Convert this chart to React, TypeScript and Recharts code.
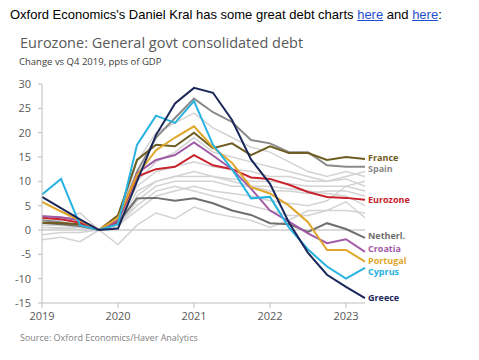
import React from "react";
import {
  LineChart,
  Line,
  XAxis,
  YAxis,
  ReferenceLine,
} from "recharts";

// quarters 2019Q1 .. 2023Q2, change vs Q4 2019 (ppts of GDP)
const quarters = [
  "2019Q1", "2019Q2", "2019Q3", "2019Q4",
  "2020Q1", "2020Q2", "2020Q3", "2020Q4",
  "2021Q1", "2021Q2", "2021Q3", "2021Q4",
  "2022Q1", "2022Q2", "2022Q3", "2022Q4",
  "2023Q1", "2023Q2",
];
const yearTicks = [0, 4, 8, 12, 16];
const yearLabels = ["2019", "2020", "2021", "2022", "2023"];
const yTicks = [-15, -10, -5, 0, 5, 10, 15, 20, 25, 30];

const greece = [6.8, 4.5, 2.2, 0, 0.3, 10, 19.5, 26, 29.2, 28.2, 22.6, 14.5, 9.5, 1.5, -4.7, -9.2, -11.7, -14];
const cyprus = [7.3, 10.5, 1.0, 0, 1.2, 17.5, 23.5, 22, 26.5, 17.5, 12.5, 6.5, 6.8, 0.5, -4, -7.5, -10, -7.8];
const france = [1.5, 1.4, 1.2, 0, 3, 14.4, 17.5, 17.2, 20, 16.8, 17.8, 15.4, 17.2, 15.8, 15.8, 14.4, 15, 14.6];
const spain = [2, 1.6, 1, 0, 2, 12, 19, 23, 27, 24.2, 22.2, 18.5, 17.8, 16, 16, 13.3, 13, 13];
const eurozone = [2.5, 2.2, 1.5, 0, 1.8, 11, 12.5, 13, 15.4, 13.3, 12.5, 10.8, 10.5, 9.3, 7.8, 6.8, 6.6, 6.2];
const portugal = [5.8, 3.8, 2, 0, 2.5, 11.3, 16.4, 19, 21.3, 17, 13.8, 8.8, 7.5, 5, 1.6, -4.1, -4.1, -6.5];
const croatia = [2.8, 2.6, 2, 0, 2, 11.7, 14.4, 15.4, 18, 15.3, 12.5, 8.5, 4, 1.7, -0.7, -2.7, -1.9, -4.5];
const netherl = [1.5, 1.2, 0.8, 0, 1.5, 6.5, 6.6, 6, 6.5, 5.5, 4, 3.1, 1.4, 1.2, -0.4, 1.4, 0.2, -1.6];

// other eurozone countries, drawn in light grey
const others = [
  [2, 1.5, 1, 0, 2, 14, 20, 22, 24, 21, 19, 17, 16, 14, 12, 11, 12, 11],
  [1, 1, 0.5, 0, 1.5, 10, 14, 16, 19, 16, 15, 14, 13, 12, 11, 10, 10.5, 9],
  [3, 2.5, 2, 0, 2, 9, 12, 13, 14, 13, 12.5, 12, 11, 11, 10, 10, 11, 12],
  [0.5, 0.5, 0, 0, 0.5, 7, 10, 11, 11, 11, 10.5, 10, 10, 9.5, 9, 9, 9, 10],
  [-1, -0.5, -0.5, 0, 0.5, 6, 9, 10, 10, 10, 9, 9, 8, 8, 7.5, 8, 8, 7],
  [-2, -1.5, -2.4, 0, -3, 1, 3.5, 2.3, 4.7, 3.5, 2.7, 2, 0.5, 2, 4, 4, 5.8, 2.5],
  [1, 1, 1.5, 0, 1, 5, 8, 9, 8, 7, 6, 5, 4, 3, 3, 4, 4, 3.5],
  [2, 2, 3.5, 0, 1, 8, 10, 11, 12, 11, 10, 9, 9, 8.5, 8, 7.5, 7, 5],
  [0, 0.3, 0.5, 0, 1, 4, 7, 8, 9, 8, 7.5, 7, 6, 5.5, 5, 6, 9, 8],
];

// labelShift nudges end labels apart where they would collide
const named = [
  { key: "netherl", name: "Netherl.", values: netherl, color: "#6f6f6f", labelShift: -1.8 },
  { key: "spain", name: "Spain", values: spain, color: "#8a8a8a", labelShift: 2.5 },
  { key: "france", name: "France", values: france, color: "#6e5c20", labelShift: -1.5 },
  { key: "eurozone", name: "Eurozone", values: eurozone, color: "#c8232c", labelShift: 0 },
  { key: "croatia", name: "Croatia", values: croatia, color: "#a15aa6", labelShift: -3 },
  { key: "portugal", name: "Portugal", values: portugal, color: "#e0a62a", labelShift: -1.2 },
  { key: "cyprus", name: "Cyprus", values: cyprus, color: "#27b2e0", labelShift: 4.3 },
  { key: "greece", name: "Greece", values: greece, color: "#1b275a", labelShift: 0 },
];

const data = quarters.map((q, i) => {
  const row: any = { i, q };
  others.forEach((s, k) => (row["o" + k] = s[i]));
  named.forEach((s) => (row[s.key] = s.values[i]));
  return row;
});

const last = quarters.length - 1;
const font = "'Open Sans', 'Noto Sans', sans-serif";

const endLabel = (name: string, color: string, shift: number) => (props: any) => {
  if (props.index !== last) return null;
  return (
    <text
      x={props.x + 3}
      y={props.y + shift}
      dy={3.2}
      fill={color}
      fontSize={9}
      fontWeight="bold"
      fontFamily={font}
    >
      {name}
    </text>
  );
};

export default function App() {
  return (
    <div
      style={{
        position: "absolute",
        left: 0,
        top: 0,
        width: 479,
        height: 360,
        background: "#fff",
        overflow: "hidden",
      }}
    >
      <div
        style={{
          position: "absolute",
          left: 10,
          top: 7,
          fontFamily: "'Liberation Sans', Arial, sans-serif",
          fontSize: 13,
          color: "#000",
          whiteSpace: "nowrap",
        }}
      >
        Oxford Economics's Daniel Kral has some great debt charts{" "}
        <span style={{ color: "#1f4fd0", textDecoration: "underline" }}>here</span> and{" "}
        <span style={{ color: "#1f4fd0", textDecoration: "underline" }}>here</span>:
      </div>
      <div
        style={{
          position: "absolute",
          left: 20,
          top: 33,
          fontFamily: font,
          fontSize: 14.5,
          color: "#5a5a5a",
          whiteSpace: "nowrap",
        }}
      >
        Eurozone: General govt consolidated debt
      </div>
      <div
        style={{
          position: "absolute",
          left: 19,
          top: 55,
          fontFamily: font,
          fontSize: 9.5,
          color: "#404040",
          whiteSpace: "nowrap",
        }}
      >
        Change vs Q4 2019, ppts of GDP
      </div>
      <div style={{ position: "absolute", left: 0, top: 0 }}>
        <LineChart
          width={479}
          height={360}
          data={data}
          margin={{ top: 84, right: 114, bottom: 27, left: 0 }}
        >
          <XAxis
            dataKey="i"
            type="number"
            domain={[0, last]}
            ticks={yearTicks}
            tickFormatter={(v: number) => yearLabels[yearTicks.indexOf(v)]}
            height={30}
            stroke="#bdbdbd"
            tickSize={5}
            tickMargin={4}
            tick={{ fill: "#595959", fontSize: 11, fontFamily: font }}
          />
          <YAxis
            type="number"
            domain={[-15, 30]}
            ticks={yTicks}
            width={42}
            stroke="#bdbdbd"
            tickSize={4}
            tickMargin={7}
            interval={0}
            tick={{ fill: "#595959", fontSize: 11, fontFamily: font }}
          />
          <ReferenceLine y={0} stroke="#b5b5b5" strokeWidth={1} />
          {others.map((_, k) => (
            <Line
              key={"o" + k}
              dataKey={"o" + k}
              stroke="#d3d3d3"
              strokeWidth={1.5}
              dot={false}
              isAnimationActive={false}
            />
          ))}
          {named.map((s) => (
            <Line
              key={s.key}
              dataKey={s.key}
              stroke={s.color}
              strokeWidth={2}
              dot={false}
              isAnimationActive={false}
              label={endLabel(s.name, s.color, s.labelShift)}
            />
          ))}
        </LineChart>
      </div>
      <div
        style={{
          position: "absolute",
          left: 20,
          top: 331,
          fontFamily: font,
          fontSize: 9,
          color: "#7f7f7f",
          whiteSpace: "nowrap",
        }}
      >
        Source: Oxford Economics/Haver Analytics
      </div>
    </div>
  );
}
